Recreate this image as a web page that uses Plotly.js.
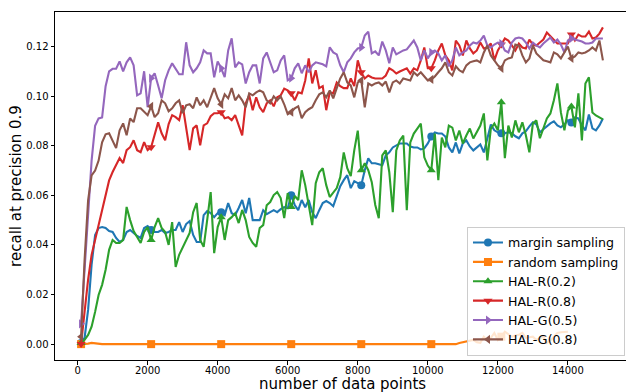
<!DOCTYPE html>
<html>
<head>
<meta charset="utf-8">
<script src="https://cdn.plot.ly/plotly-3.0.1.min.js"></script>
<style>
html,body{margin:0;padding:0;overflow:hidden;background:#fff;}
#chart{width:630px;height:392px;}
</style>
</head>
<body>
<div id="chart"></div>
<script>
// x positions: number of data points
var xStart = 100, xStep = 100, nPoints = 150;
var xVals = [];
for (var k = 0; k < nPoints; k++) xVals.push(xStart + k * xStep);

var seriesNames = ["margin sampling", "random sampling", "HAL-R(0.2)", "HAL-R(0.8)", "HAL-G(0.5)", "HAL-G(0.8)"];

var marginSampling = [0.0005,0.0025,0.0138,0.032,0.044,0.0468,0.0472,0.0468,0.0456,0.0452,
0.0428,0.0412,0.042,0.0452,0.046,0.0448,0.0436,0.0428,0.0468,0.0476,
0.046,0.0452,0.0452,0.046,0.0448,0.0452,0.046,0.046,0.0492,0.0452,
0.0484,0.0496,0.044,0.0412,0.0412,0.052,0.0536,0.0528,0.0512,0.0528,
0.0532,0.052,0.0569,0.0528,0.052,0.0549,0.0581,0.0528,0.0589,0.05,
0.05,0.05,0.054,0.0524,0.0532,0.054,0.0532,0.0544,0.0552,0.0548,
0.06,0.0561,0.054,0.0581,0.0552,0.0581,0.0532,0.0508,0.054,0.0569,
0.0577,0.0569,0.0556,0.0593,0.0637,0.0661,0.0681,0.0629,0.0657,0.0649,
0.0641,0.0701,0.0749,0.0729,0.0729,0.0725,0.0721,0.0761,0.0773,0.0793,
0.0801,0.0809,0.0809,0.0809,0.0797,0.0793,0.0793,0.0785,0.0789,0.0809,
0.0837,0.0853,0.0849,0.0849,0.0837,0.0793,0.0773,0.0813,0.0769,0.0809,
0.0821,0.0797,0.0781,0.0793,0.0805,0.0773,0.0833,0.0885,0.0862,0.0854,
0.085,0.085,0.0854,0.085,0.0838,0.083,0.085,0.0858,0.0878,0.0894,
0.0886,0.0854,0.0866,0.0878,0.089,0.0898,0.0882,0.0874,0.0886,0.0902,
0.0894,0.0914,0.091,0.0882,0.0862,0.0926,0.087,0.0862,0.0882,0.091];

var randomSampling = [0,0,0.0002,0.0005,0.0003,0,0,0,0,0,
0,0,0,0,0,0,0,0,0,0,
0,0,0,0,0,0,0,0,0,0,
0,0,0,0,0,0,0,0,0,0,
0,0,0,0,0,0,0,0,0,0,
0,0,0,0,0,0,0,0,0,0,
0,0,0,0,0,0,0,0,0,0,
0,0,0,0,0,0,0,0,0,0,
0,0,0,0,0,0,0,0,0,0,
0,0,0,0,0,0,0,0,0,0,
0,0,0,0,0,0,0,0,0.0005,0.0008,
0.001,0.0012,0.0017,0.0008,0.0005,0.003,0.0017,0.0025,0.0045,0.0017,
0.003,0.005,0.004,0.003,0.0035,0.0038,0.0045,0.0025,0.0028,0.003,
0.0017,0.0025,0.003,0.0005,0.0015,0.003,0.0045,0.0048,0.005,0.005];

var halR02 = [0.0005,0.0017,0.0037,0.007,0.013,0.0198,0.0239,0.03,0.038,0.042,
0.0408,0.0408,0.042,0.0553,0.05,0.0456,0.0432,0.0408,0.0452,0.0472,
0.042,0.0472,0.0508,0.0468,0.0452,0.04,0.0492,0.0311,0.036,0.0388,
0.042,0.0448,0.0532,0.0569,0.042,0.0392,0.05,0.0613,0.0367,0.0472,
0.0512,0.042,0.05,0.0512,0.0528,0.0488,0.0541,0.05,0.0432,0.0408,
0.0392,0.0468,0.048,0.056,0.0573,0.0601,0.0613,0.0589,0.0508,0.0609,
0.0553,0.0597,0.0581,0.0701,0.0641,0.056,0.048,0.0649,0.0693,0.0709,
0.0641,0.0593,0.0613,0.0629,0.0673,0.0773,0.0709,0.0677,0.0781,0.0861,
0.0701,0.0729,0.0701,0.0653,0.0561,0.0508,0.0761,0.0781,0.0693,0.0532,
0.0781,0.0821,0.0841,0.054,0.0813,0.0849,0.0869,0.0889,0.0753,0.072,
0.0701,0.0849,0.0661,0.0833,0.0793,0.0881,0.0873,0.0821,0.0861,0.0809,
0.0841,0.0869,0.0829,0.0853,0.0881,0.093,0.0741,0.0869,0.0889,0.0862,
0.0975,0.075,0.0881,0.0833,0.0902,0.0854,0.0894,0.0842,0.0773,0.0889,
0.0902,0.083,0.087,0.091,0.093,0.0983,0.1051,0.0934,0.0862,0.0942,
0.0958,0.0874,0.1011,0.0821,0.1051,0.1076,0.0934,0.0922,0.0914,0.0906];

var halR08 = [0.0001,0.0138,0.026,0.036,0.042,0.048,0.0532,0.06,0.066,0.0694,
0.0722,0.075,0.073,0.0782,0.0794,0.0822,0.0782,0.0774,0.0814,0.0782,
0.0794,0.0842,0.0894,0.085,0.0822,0.0887,0.0923,0.0915,0.0903,0.0963,
0.0862,0.0782,0.087,0.0882,0.0802,0.0882,0.089,0.0919,0.0931,0.0931,
0.0935,0.0911,0.0915,0.0903,0.0923,0.0882,0.0842,0.0971,0.1003,0.0943,
0.0995,0.0955,0.0935,0.0971,0.0983,0.0959,0.0995,0.1003,0.103,0.1023,
0.1011,0.0983,0.1015,0.1011,0.1063,0.1152,0.1051,0.1104,0.1032,0.104,
0.0943,0.1015,0.1011,0.1055,0.104,0.1032,0.1032,0.1071,0.104,0.1144,
0.1096,0.1071,0.1083,0.1075,0.1071,0.1071,0.1071,0.1083,0.1112,0.1104,
0.1091,0.1099,0.1107,0.1112,0.1091,0.1112,0.1104,0.1144,0.1196,0.1112,
0.1112,0.1144,0.1184,0.1212,0.1164,0.1144,0.1104,0.1224,0.1204,0.1164,
0.1224,0.1192,0.1172,0.1184,0.1216,0.1192,0.1196,0.1212,0.1144,0.1184,
0.1208,0.1232,0.1224,0.1204,0.1184,0.1212,0.1196,0.1192,0.1228,0.1208,
0.1204,0.1216,0.1228,0.1256,0.124,0.1228,0.1212,0.1212,0.1212,0.1212,
0.1248,0.1224,0.1248,0.124,0.124,0.126,0.1232,0.1236,0.1252,0.1277];

var halG05 = [0.0082,0.030,0.054,0.074,0.088,0.091,0.0914,0.104,0.110,0.111,
0.111,0.114,0.110,0.1136,0.1156,0.1124,0.1003,0.1011,0.110,0.0955,
0.1072,0.1092,0.1043,0.0991,0.1064,0.1104,0.1132,0.1112,0.1088,0.1088,
0.1217,0.1124,0.1096,0.1112,0.1136,0.1184,0.1172,0.1172,0.1076,0.114,
0.1112,0.1076,0.1184,0.1233,0.1116,0.1136,0.1128,0.1051,0.1096,0.1124,
0.1124,0.1051,0.1152,0.1176,0.1136,0.1096,0.1104,0.1144,0.1164,0.1064,
0.1072,0.1112,0.1132,0.1092,0.1124,0.1096,0.1124,0.1136,0.1132,0.1128,
0.112,0.1197,0.1176,0.1168,0.1124,0.1096,0.1136,0.1152,0.1176,0.1192,
0.1196,0.1244,0.126,0.1172,0.118,0.1164,0.122,0.1184,0.1132,0.1196,
0.1168,0.1176,0.1184,0.1188,0.1208,0.1224,0.1196,0.1144,0.1184,0.1152,
0.1176,0.1184,0.1172,0.1144,0.1164,0.112,0.1144,0.1196,0.1164,0.1176,
0.1184,0.1204,0.1216,0.1212,0.1224,0.1244,0.1204,0.1196,0.1208,0.1216,
0.1212,0.1184,0.1176,0.1216,0.1232,0.1236,0.1232,0.1216,0.1192,0.1216,
0.1204,0.1196,0.1212,0.1224,0.1236,0.1216,0.1228,0.1208,0.1176,0.1224,
0.1232,0.1228,0.1224,0.122,0.1212,0.1212,0.1216,0.1232,0.1232,0.1232];

var halG08 = [0.003,0.034,0.058,0.068,0.070,0.074,0.0814,0.0846,0.085,0.0822,
0.079,0.0862,0.089,0.0842,0.091,0.0895,0.0951,0.0951,0.0939,0.0923,
0.0959,0.0915,0.0931,0.0983,0.0971,0.0939,0.0951,0.0971,0.0983,0.0931,
0.0963,0.0967,0.0951,0.0995,0.0963,0.0983,0.0955,0.0995,0.1032,0.0991,
0.0967,0.1007,0.0991,0.1032,0.0983,0.1003,0.0983,0.0955,0.1011,0.1003,
0.1015,0.1023,0.1015,0.0983,0.0971,0.0999,0.0983,0.0999,0.0967,0.0927,
0.0935,0.0951,0.0959,0.0911,0.0935,0.0947,0.0955,0.0983,0.1007,0.1015,
0.0995,0.1023,0.0991,0.1032,0.1071,0.1096,0.1055,0.1043,0.0995,0.1055,
0.1063,0.0955,0.1051,0.1043,0.1051,0.1055,0.1043,0.1059,0.1015,0.1055,
0.1063,0.1051,0.1071,0.1067,0.1063,0.1096,0.1083,0.1096,0.1079,0.1063,
0.1067,0.1079,0.1096,0.1112,0.1136,0.1096,0.1083,0.112,0.1104,0.1096,
0.1124,0.1136,0.114,0.1144,0.1136,0.1176,0.1204,0.1164,0.1144,0.1124,
0.1112,0.1144,0.1152,0.1156,0.1208,0.1204,0.1164,0.1136,0.1152,0.1204,
0.1172,0.1156,0.1144,0.114,0.1136,0.1176,0.1168,0.1152,0.1176,0.12,
0.1152,0.116,0.1176,0.1172,0.1176,0.1184,0.1196,0.1184,0.1224,0.1144];

var xTicks = [0, 2000, 4000, 6000, 8000, 10000, 12000, 14000];
var yTicks = [0.00, 0.02, 0.04, 0.06, 0.08, 0.10, 0.12];

var allSeries = [marginSampling, randomSampling, halR02, halR08, halG05, halG08];
var colors = ["#1f77b4", "#ff7f0e", "#2ca02c", "#d62728", "#9467bd", "#8c564b"];
var symbols = ["circle", "square", "triangle-up", "triangle-down", "triangle-right", "triangle-left"];
var markEvery = 20;
var FONT = "DejaVu Sans, Liberation Sans, sans-serif";

var traces = [];
for (var s = 0; s < allSeries.length; s++) {
  var ys = allSeries[s];
  var mx = [], my = [];
  for (var i = 0; i < ys.length; i += markEvery) { mx.push(xVals[i]); my.push(ys[i]); }
  traces.push({
    x: xVals, y: ys, type: "scatter", mode: "lines",
    line: {color: colors[s], width: 2.1}, showlegend: false, hoverinfo: "skip"
  });
  traces.push({
    x: mx, y: my, type: "scatter", mode: "markers",
    marker: {color: colors[s], size: 8, symbol: symbols[s], line: {width: 0}},
    showlegend: false, hoverinfo: "skip"
  });
}
for (var s2 = 0; s2 < allSeries.length; s2++) {
  traces.push({
    x: [null], y: [null], type: "scatter", mode: "lines+markers",
    name: seriesNames[s2],
    line: {color: colors[s2], width: 2.1},
    marker: {color: colors[s2], size: 8, symbol: symbols[s2]}
  });
}

var layout = {
  width: 630, height: 392,
  margin: {l: 55, r: 1, t: 12, b: 32},
  paper_bgcolor: "#ffffff", plot_bgcolor: "#ffffff",
  font: {family: FONT, color: "#000000", size: 10},
  showlegend: true,
  legend: {
    x: 0.993, xanchor: "right", y: 0.012, yanchor: "bottom",
    bgcolor: "rgba(255,255,255,0.8)", bordercolor: "#cccccc", borderwidth: 1,
    font: {family: FONT, size: 12.6, color: "#000000"},
    tracegroupgap: 0
  },
  xaxis: {
    range: [-645, 15745],
    tickvals: xTicks, ticktext: xTicks.map(function(v){return String(v);}),
    ticks: "outside", ticklen: 3.5, tickwidth: 1, tickcolor: "#000",
    ticklabelstandoff: -3,
    showline: true, linecolor: "#000", linewidth: 1, mirror: true,
    showgrid: false, zeroline: false,
    tickfont: {family: FONT, size: 10, color: "#000"},
    automargin: false
  },
  yaxis: {
    range: [-0.0064, 0.1339],
    tickvals: yTicks, ticktext: yTicks.map(function(v){return v.toFixed(2);}),
    ticks: "outside", ticklen: 3.5, tickwidth: 1, tickcolor: "#000",
    showline: true, linecolor: "#000", linewidth: 1, mirror: true,
    showgrid: false, zeroline: false,
    tickfont: {family: FONT, size: 10, color: "#000"},
    title: {text: "recall at precision 0.9", font: {family: FONT, size: 15, color: "#000"}, standoff: 0},
    automargin: false
  },
  annotations: [{
    text: "number of data points", xref: "paper", yref: "paper",
    x: 0.5, y: -0.069, xanchor: "center", yanchor: "middle", showarrow: false,
    font: {family: FONT, size: 15, color: "#000"}
  }]
};

Plotly.newPlot("chart", traces, layout, {displayModeBar: false, staticPlot: true});
</script>
</body>
</html>
